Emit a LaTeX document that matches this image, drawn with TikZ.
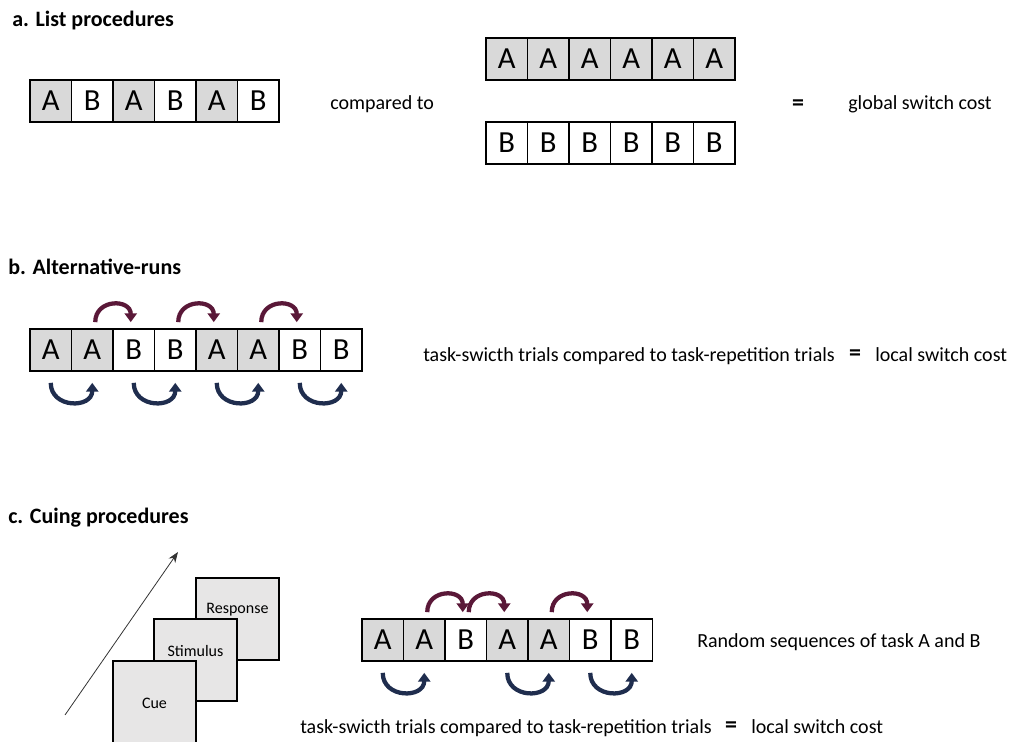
\documentclass[tikz,border=0pt]{standalone}
\usepackage{fontspec}
\setmainfont{Carlito}
\usetikzlibrary{arrows.meta,calc}
\definecolor{cellgray}{HTML}{D9D9D9}
\definecolor{cuegray}{HTML}{E7E6E6}
\definecolor{maroonarr}{HTML}{5A1838}
\definecolor{navyarr}{HTML}{1F2D4E}
\begin{document}
\begin{tikzpicture}[x=0.75pt,y=0.75pt,
  cell/.style={draw=black, line width=1.3pt, minimum width=31.125pt, minimum height=31.5pt,
    inner sep=0pt, font=\fontsize{23}{23}\selectfont},
  cellA/.style={cell, fill=cellgray},
  cellB/.style={cell, fill=white},
  title/.style={anchor=west, inner sep=0pt, text height=0.75em, text depth=0.25em,
    font=\fontsize{16.5}{18}\bfseries\selectfont},
  lbl/.style={anchor=west, inner sep=0pt, text height=0.75em, text depth=0.25em,
    font=\fontsize{15}{17}\selectfont},
  eq/.style={inner sep=0pt, font=\fontsize{18}{18}\bfseries\selectfont},
  cuebox/.style={draw=black, line width=1.3pt, fill=cuegray, minimum width=62.25pt,
    minimum height=61.5pt, inner sep=0pt},
  cuetxt/.style={inner sep=0pt, font=\fontsize{12}{14}\selectfont},
  toparr/.style={draw=maroonarr, line width=3.2pt, -{Triangle[width=9pt,length=6.5pt]},
    out=90, in=90, looseness=1.7},
  botarr/.style={draw=navyarr, line width=3.2pt, -{Triangle[width=9pt,length=6.5pt]},
    out=-90, in=-90, looseness=1.6},
  timearr/.style={draw=black!80, line width=0.6pt, -{Stealth[length=8pt,width=6pt]}}
]
\useasboundingbox (0,0) rectangle (1011,742);

% ---------------- a ----------------
\node[title] (ta) at (12,719) {a. List procedures};
\foreach \l [count=\i] in {A,B,A,B,A,B}
  \node[cell\l] (a\i) at ({50.75+41.5*(\i-1)},641) {\l};
\foreach \i in {1,...,6}
  \node[cellA] (aa\i) at ({506.75+41.5*(\i-1)},683) {A};
\foreach \i in {1,...,6}
  \node[cellB] (ab\i) at ({506.75+41.5*(\i-1)},599) {B};
\node[lbl] (cmp) at (330,636) {compared to};
\node[eq] (eqa) at (798,637) {=};
\node[lbl] (gsc) at (848,636) {global switch cost};

% ---------------- b ----------------
\node[title] (tb) at (8,471) {b. Alternative-runs};
\foreach \l [count=\i] in {A,A,B,B,A,A,B,B}
  \node[cell\l] (b\i) at ({50.75+41.5*(\i-1)},392) {\l};
\foreach \i/\j in {2/3,4/5,6/7}
  \draw[toparr] ($(b\i.north)+(3,6)$) to ($(b\j.north)+(-3,6)$);
\foreach \i/\j in {1/2,3/4,5/6,7/8}
  \draw[botarr] ($(b\i.south)+(0,-11)$) to ($(b\j.south)+(0,-11)$);
\node[lbl] (tsb) at (423,384) {task-swicth trials compared to task-repetition trials};
\node[eq] (eqb) at (855,387) {=};
\node[lbl] (lsb) at (875,384) {local switch cost};

% ---------------- c ----------------
\node[title] (tc) at (8,222) {c. Cuing procedures};
\coordinate (t0) at (65,27);
\coordinate (t1) at (178,190);
\draw[timearr] (t0) -- (t1);
\node[cuebox] (resp) at (237.5,123) {};
\node[cuetxt] at ($(resp.north)+(0,-33)$) {Response};
\node[cuebox] (stim) at (195.5,82) {};
\node[cuetxt] at ($(stim.north)+(0,-33)$) {Stimulus};
\node[cuebox] (cue) at (154.5,40) {};
\node[cuetxt] at ($(cue)+(0,-1)$) {Cue};

\foreach \l [count=\i] in {A,A,B,A,A,B,B}
  \node[cell\l] (c\i) at ({382.75+41.5*(\i-1)},102) {\l};
\foreach \i/\j in {2/3,3/4,5/6}
  \draw[toparr] ($(c\i.north)+(3,6)$) to ($(c\j.north)+(-3,6)$);
\foreach \i/\j in {1/2,4/5,6/7}
  \draw[botarr] ($(c\i.south)+(0,-11)$) to ($(c\j.south)+(0,-11)$);
\node[lbl] (rnd) at (697,98) {Random sequences of task A and B};
\node[lbl] (tsc) at (300,12) {task-swicth trials compared to task-repetition trials};
\node[eq] (eqc) at (731,15) {=};
\node[lbl] (lsc) at (751,12) {local switch cost};
\end{tikzpicture}
\end{document}
